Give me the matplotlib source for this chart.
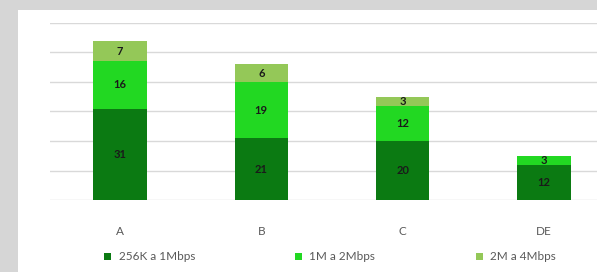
import matplotlib
matplotlib.use('Agg')
import matplotlib.pyplot as plt
from matplotlib.patches import Rectangle
import numpy as np

categories = ['A', 'B', 'C', 'DE']
series_names = ['256K a 1Mbps', '1M a 2Mbps', '2M a 4Mbps']
slow = [31, 21, 20, 12]
mid = [16, 19, 12, 3]
fast = [7, 6, 3, 0]
colors = ['#0b7a12', '#22d822', '#94c858']

plt.rcParams['font.family'] = ['Lato', 'DejaVu Sans']

fig = plt.figure(figsize=(5.97, 2.72), dpi=100)
fig.patch.set_facecolor('#d6d6d6')
# white panel the chart sits on
fig.add_artist(Rectangle((18 / 597, 0), 1, 262 / 272, transform=fig.transFigure,
                         facecolor='white', edgecolor='none', zorder=-10))

ax = fig.add_axes([49.5 / 597, 72 / 272, 565 / 597, 177 / 272])
ax.set_facecolor('none')

x = np.arange(len(categories))
bottom = np.zeros(len(categories))
for name, vals, col in zip(series_names, [slow, mid, fast], colors):
    vals = np.array(vals, dtype=float)
    bars = ax.bar(x, vals, 0.38, bottom=bottom, color=col, label=name, zorder=3)
    for b, v, y0 in zip(bars, vals, bottom):
        if v > 0:
            ax.text(b.get_x() + b.get_width() / 2, y0 + v / 2, f'{int(v)}',
                    ha='center', va='center', fontsize=8, fontweight='bold',
                    color='#1a1a1a', zorder=4)
    bottom += vals

ax.set_xlim(-0.5, 3.5)
ax.set_ylim(0, 60)
ax.set_yticks(np.arange(0, 61, 10))
ax.yaxis.grid(True, color='#d9d9d9', linewidth=1, zorder=0)
ax.set_yticklabels([])
ax.tick_params(axis='y', length=0)
ax.set_xticks(x)
ax.set_xticklabels(categories, fontsize=8.5, color='#595959')
ax.tick_params(axis='x', length=0, pad=19)
for s in ax.spines.values():
    s.set_visible(False)

fig.legend(loc='center', bbox_to_anchor=(330 / 597, 1 - 257 / 272), ncol=3,
           frameon=False, fontsize=8.5, labelcolor='#595959', handlelength=0.6,
           handleheight=0.6, handletextpad=0.6, columnspacing=8.5)

fig.savefig('out.png', dpi=100, facecolor=fig.get_facecolor())
